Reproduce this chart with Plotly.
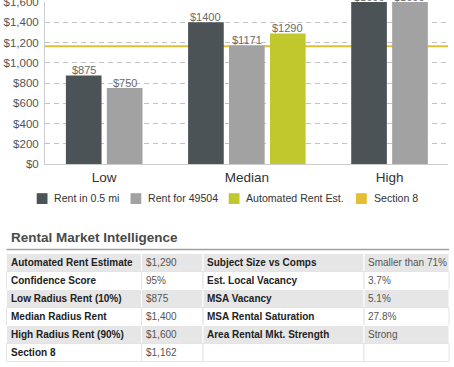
import plotly.graph_objects as go

# ---------------- data ----------------
categories = ["Low", "Median", "High"]
series_names = ["Rent in 0.5 mi", "Rent for 49504", "Automated Rent Est."]
rent_half_mile = [875, 1400, 1600]
rent_zip = [750, 1171, 1600]
automated_est = [None, 1290, None]
section8_name = "Section 8"
section8_value = 1162
y_tick_values = [0, 200, 400, 600, 800, 1000, 1200, 1400, 1600]
y_tick_labels = ["$" + format(v, ",d") for v in y_tick_values]

table_title = "Rental Market Intelligence"
left_labels = ["Automated Rent Estimate", "Confidence Score", "Low Radius Rent (10%)",
               "Median Radius Rent", "High Radius Rent (90%)", "Section 8"]
left_values = ["$1,290", "95%", "$875", "$1,400", "$1,600", "$1,162"]
right_labels = ["Subject Size vs Comps", "Est. Local Vacancy", "MSA Vacancy",
                "MSA Rental Saturation", "Area Rental Mkt. Strength", ""]
right_values = ["Smaller than 71%", "3.7%", "5.1%", "27.8%", "Strong", ""]

# ---------------- styles ----------------
colors = ["#4b5356", "#a2a2a2", "#c1c82d"]
section8_color = "#e4bf33"
FONT = "Liberation Sans, Arial, sans-serif"

W, H = 454, 367
ML, MR, MT, MB = 45, 6, 2, 203
PW, PH = W - ML - MR, H - MT - MB


def xp(px):
    return (px - ML) / PW


def yp(py):
    return (H - MB - py) / PH


series_values = [rent_half_mile, rent_zip, automated_est]
bar_pitch = 0.287
bar_width = 0.25

fig = go.Figure()
shapes = []
annotations = []

# bars present in a category are centered on it
positions = [[None] * len(categories) for _ in series_values]
for ci in range(len(categories)):
    present = [si for si, vals in enumerate(series_values) if vals[ci] is not None]
    n = len(present)
    for k, si in enumerate(present):
        positions[si][ci] = ci + (k - (n - 1) / 2) * bar_pitch

for si, (name, vals) in enumerate(zip(series_names, series_values)):
    xs = [positions[si][ci] for ci in range(len(categories)) if vals[ci] is not None]
    ys = [v for v in vals if v is not None]
    fig.add_trace(go.Bar(
        x=xs, y=ys, name=name, width=bar_width,
        marker=dict(color=colors[si], line=dict(width=0)),
        showlegend=False, hoverinfo="skip",
    ))
    # value labels sitting right on top of each bar
    for x, y in zip(xs, ys):
        annotations.append(dict(xref="x", yref="y", x=x, y=y, text="$%d" % y,
                                showarrow=False, xanchor="center", yanchor="bottom",
                                yshift=-1.5, borderpad=0,
                                font=dict(family=FONT, size=11, color="#6a6a6a")))

fig.add_hline(y=section8_value, line=dict(color=section8_color, width=2), layer="below")

# legend (manual)
legend_items = list(zip(series_names + [section8_name], colors + [section8_color]))
legend_pos = [(36.7, 52.7), (130.5, 146.5), (228.7, 245), (356, 372.5)]
for (name, col), (sx, tx) in zip(legend_items, legend_pos):
    shapes.append(dict(type="rect", xref="paper", yref="paper",
                       x0=xp(sx), x1=xp(sx + 10.8), y0=yp(204), y1=yp(193.2),
                       fillcolor=col, line=dict(width=0)))
    annotations.append(dict(xref="paper", yref="paper", x=xp(tx), y=yp(198.3),
                            xanchor="left", yanchor="middle", text=name, showarrow=False,
                            borderpad=0, font=dict(family=FONT, size=10.6, color="#333")))

# table title + rule
annotations.append(dict(xref="paper", yref="paper", x=xp(10), y=yp(237.5),
                        xanchor="left", yanchor="middle", text="<b>%s</b>" % table_title,
                        showarrow=False, borderpad=0,
                        font=dict(family=FONT, size=13.5, color="#4a4a4a")))
shapes.append(dict(type="line", xref="paper", yref="paper",
                   x0=xp(6.5), x1=xp(449), y0=yp(249.5), y1=yp(249.5),
                   line=dict(color="#a0a0a0", width=1.5)))

# table body
col_edges = [6.5, 141.5, 203, 364, 449]
row_top = 253.5
row_h = 18
for ri in range(len(left_labels)):
    y0 = row_top + ri * row_h
    y1 = y0 + row_h
    gray = ri % 2 == 0
    for ci in range(4):
        shapes.append(dict(type="rect", xref="paper", yref="paper",
                           x0=xp(col_edges[ci]), x1=xp(col_edges[ci + 1]),
                           y0=yp(y1), y1=yp(y0),
                           fillcolor="#e6e6e6" if gray else "#ffffff",
                           line=dict(color="#ffffff" if gray else "#e4e4e4", width=1),
                           layer="above"))
    row_texts = [
        ("<b>%s</b>" % left_labels[ri] if left_labels[ri] else "", "#222"),
        (left_values[ri], "#555"),
        ("<b>%s</b>" % right_labels[ri] if right_labels[ri] else "", "#222"),
        (right_values[ri], "#555"),
    ]
    for ci, (txt, tc) in enumerate(row_texts):
        if not txt:
            continue
        annotations.append(dict(xref="paper", yref="paper",
                                x=xp(col_edges[ci] + 3.2), y=yp((y0 + y1) / 2),
                                xanchor="left", yanchor="middle", text=txt,
                                showarrow=False, borderpad=0,
                                font=dict(family=FONT, size=10, color=tc)))

fig.update_layout(
    width=W, height=H, autosize=False,
    margin=dict(l=ML, r=MR, t=MT, b=MB, pad=0, autoexpand=False),
    paper_bgcolor="white", plot_bgcolor="white",
    barmode="overlay",
    showlegend=False,
    font=dict(family=FONT),
    shapes=list(fig.layout.shapes) + shapes,
    annotations=annotations,
    xaxis=dict(
        range=[-0.415, 2.41], tickvals=list(range(len(categories))), ticktext=categories,
        showgrid=False, zeroline=False, showline=True, linecolor="#cccccc", linewidth=1,
        ticks="", ticklabelstandoff=1, automargin=False,
        tickfont=dict(family=FONT, size=13.5, color="#333"),
    ),
    yaxis=dict(
        range=[0, 1600], tickmode="array", tickvals=y_tick_values, ticktext=y_tick_labels,
        showgrid=True, gridcolor="#c4c4c4", griddash="5px,4px", gridwidth=1,
        zeroline=False, showline=True, linecolor="#cccccc", linewidth=1,
        ticks="", ticklabelstandoff=3, ticklabeloverflow="allow", automargin=False,
        tickfont=dict(family=FONT, size=11.5, color="#555"),
    ),
)

fig.write_html(
    "out.html",
    config={"displayModeBar": False},
    post_script="document.body.style.margin='0';document.body.style.overflow='hidden';",
)
